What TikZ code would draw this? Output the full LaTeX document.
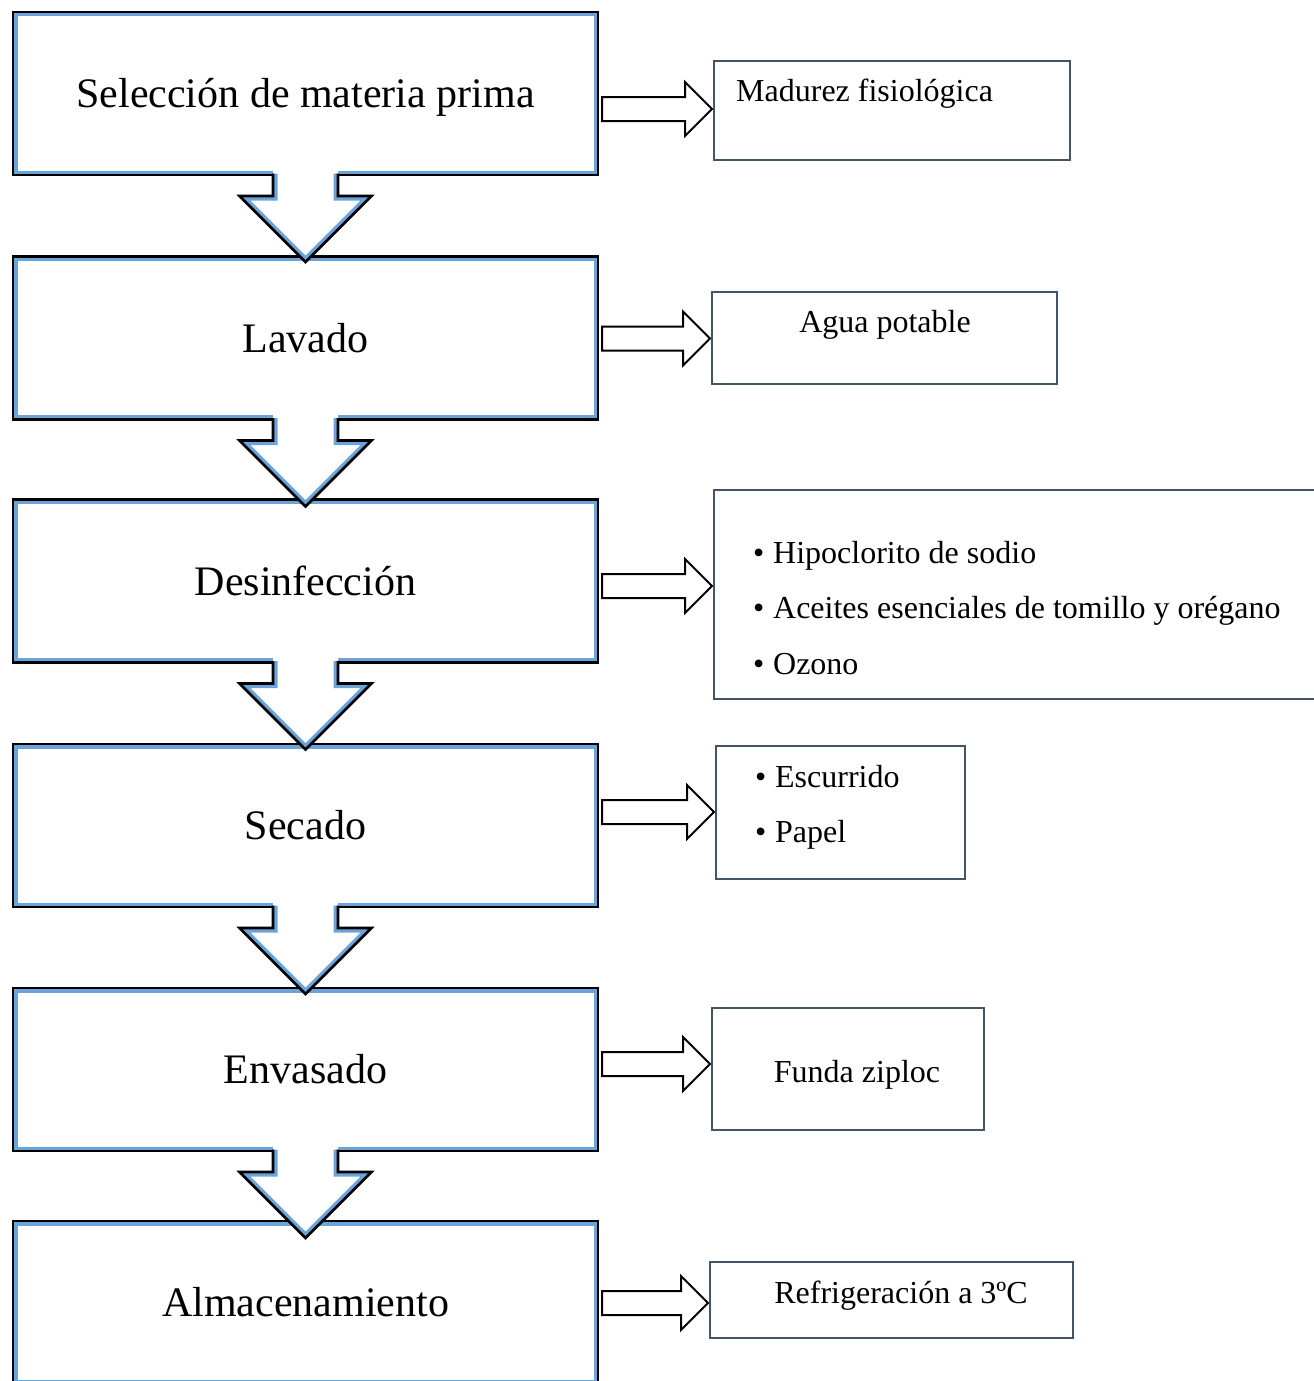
\documentclass[tikz,border=0pt]{standalone}
\usepackage{fontspec}
\setmainfont{Liberation Serif}
\usetikzlibrary{calc}
\definecolor{glowblue}{RGB}{91,155,213}
\definecolor{slate}{RGB}{68,84,106}
\tikzset{
  mainbox/.style={fill=white, minimum width=585pt, minimum height=163pt, inner sep=0pt, outer sep=0pt},
  maintext/.style={font=\fontsize{42}{50}\selectfont, anchor=base, inner sep=0pt},
  sidebox/.style={draw=slate, line width=2pt, fill=white, inner sep=0pt, outer sep=0pt},
  sidetext/.style={font=\fontsize{32}{38}\selectfont, inner sep=0pt},
  outline/.style={draw=black, line width=2.6pt, line join=miter},
  glow/.style={draw=glowblue, line width=9pt, opacity=0.9},
  rarrow/.style={draw=black, line width=2pt, fill=white, line join=miter},
}
\begin{document}
\begin{tikzpicture}[x=1pt,y=1pt]
\useasboundingbox (0,0) rectangle (1314,-1381);
\clip (0,0) rectangle (1314,-1381);

% main process boxes
\node[mainbox] (b1) at (305.5,-93.5) {};
\node[mainbox] (b2) at (305.5,-338) {};
\node[mainbox] (b3) at (305.5,-581) {};
\node[mainbox] (b4) at (305.5,-825.5) {};
\node[mainbox] (b5) at (305.5,-1069.5) {};
\node[mainbox] (b6) at (305.5,-1302.5) {};
\foreach \b in {b1,b2,b3,b4,b5,b6} {
  \begin{scope}
    \clip (\b.north west) rectangle (\b.south east);
    \draw[glow] (\b.north west) rectangle (\b.south east);
  \end{scope}
  \draw[outline] (\b.north west) rectangle (\b.south east);
}
\node[maintext] (t1) at ($(b1.center)+(0,-13.5)$) {Selección de materia prima};
\node[maintext] (t2) at ($(b2.center)+(0,-14)$) {Lavado};
\node[maintext] (t3) at ($(b3.center)+(0,-14)$) {Desinfección};
\node[maintext] (t4) at ($(b4.center)+(0,-14)$) {Secado};
\node[maintext] (t5) at ($(b5.center)+(0,-14)$) {Envasado};
\node[maintext] (t6) at ($(b6.center)+(0,-14)$) {Almacenamiento};

% down block arrows
\foreach \a in {b1,b2,b3,b4,b5} {
  \coordinate (s) at (\a.south);
  \fill[white] ($(s)+(-32.5,6)$) -- ($(s)+(-32.5,-21)$) -- ($(s)+(-66,-21)$) -- ($(s)+(0,-87)$)
     -- ($(s)+(66,-21)$) -- ($(s)+(32.5,-21)$) -- ($(s)+(32.5,6)$) -- cycle;
  \begin{scope}
    \clip ($(s)+(-32.5,6)$) -- ($(s)+(-32.5,-21)$) -- ($(s)+(-66,-21)$) -- ($(s)+(0,-87)$)
     -- ($(s)+(66,-21)$) -- ($(s)+(32.5,-21)$) -- ($(s)+(32.5,6)$) -- cycle;
    \draw[glow] ($(s)+(-32.5,1.3)$) -- ($(s)+(-32.5,-21)$) -- ($(s)+(-66,-21)$) -- ($(s)+(0,-87)$)
     -- ($(s)+(66,-21)$) -- ($(s)+(32.5,-21)$) -- ($(s)+(32.5,1.3)$);
  \end{scope}
  \draw[outline] ($(s)+(-32.5,1.3)$) -- ($(s)+(-32.5,-21)$) -- ($(s)+(-66,-21)$) -- ($(s)+(0,-87)$)
     -- ($(s)+(66,-21)$) -- ($(s)+(32.5,-21)$) -- ($(s)+(32.5,1.3)$);
}

% side boxes
\node[sidebox, minimum width=356pt, minimum height=99pt] (r1) at (892,-110.5) {};
\node[sidebox, minimum width=345pt, minimum height=92pt] (r2) at (884.5,-338) {};
\node[sidebox, minimum width=620pt, minimum height=209pt] (r3) at (1024,-594.5) {};
\node[sidebox, minimum width=249pt, minimum height=133pt] (r4) at (840.5,-812.5) {};
\node[sidebox, minimum width=272pt, minimum height=122pt] (r5) at (848,-1069) {};
\node[sidebox, minimum width=363pt, minimum height=76pt] (r6) at (891.5,-1300) {};

\node[sidetext, anchor=base west] (l1) at (736,-101) {Madurez fisiológica};
\node[sidetext, anchor=base] (l2) at (885,-332) {Agua potable};
\node[sidetext, anchor=base west] (l3a) at (753,-563) {\makebox[20pt][l]{•}Hipoclorito de sodio};
\node[sidetext, anchor=base west] (l3b) at (753,-618) {\makebox[20pt][l]{•}Aceites esenciales de tomillo y orégano};
\node[sidetext, anchor=base west] (l3c) at (753,-674) {\makebox[20pt][l]{•}Ozono};
\node[sidetext, anchor=base west] (l4a) at (755,-787) {\makebox[20pt][l]{•}Escurrido};
\node[sidetext, anchor=base west] (l4b) at (755,-842) {\makebox[20pt][l]{•}Papel};
\node[sidetext, anchor=base] (l5) at (857,-1082) {Funda ziploc};
\node[sidetext, anchor=base] (l6) at (901,-1303) {Refrigeración a 3ºC};

% right block arrows
\foreach \m/\r/\dy in {b1/r1/-15.5, b2/r2/-0.5, b3/r3/-5, b4/r4/13.5, b5/r5/5.5, b6/r6/-0.5} {
  \path let \p1=($(\m.east)+(4pt,\dy pt)$), \p2=($(\r.west)+(-2pt,0pt)$) in
    [rarrow] (\x1,{\y1+12pt}) -- ({\x2-27pt},{\y1+12pt}) -- ({\x2-27pt},{\y1+27pt})
      -- (\x2,\y1) -- ({\x2-27pt},{\y1-27pt}) -- ({\x2-27pt},{\y1-12pt}) -- (\x1,{\y1-12pt}) -- cycle;
}
\end{tikzpicture}
\end{document}
